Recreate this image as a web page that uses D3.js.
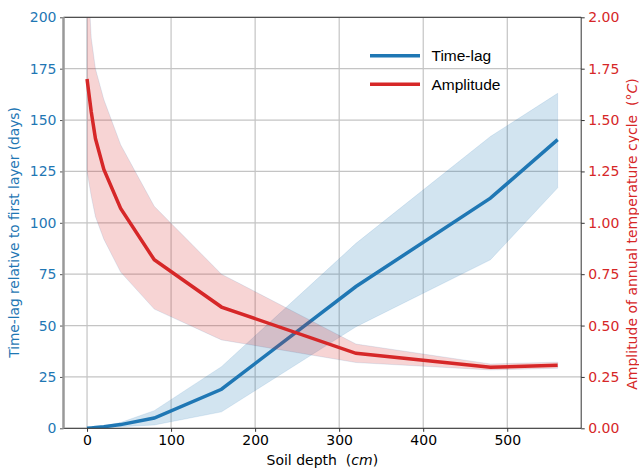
<!DOCTYPE html>
<html><head><meta charset="utf-8">
<script src="https://cdn.jsdelivr.net/npm/d3@7"></script>
<style>body{margin:0;background:#fff}svg{display:block}text{white-space:pre}</style>
</head><body>
<svg id="c" width="639" height="468"></svg>
<script>
const depths = [0, 5, 10, 20, 40, 80, 160, 320, 480, 560];
const lagMean  = [0, 0.2, 0.4, 0.8, 1.8, 5, 19, 69, 112, 140.5];
const lagUpper = [0, 0.3, 0.6, 1.2, 2.8, 8.6, 30, 90, 142, 163];
const lagLower = [0, 0.1, 0.2, 0.4, 0.8, 1.6, 8, 49.4, 82, 117];
const ampMean  = [1.70, 1.54, 1.41, 1.26, 1.07, 0.82, 0.59, 0.365, 0.297, 0.307];
const ampUpper = [2.30, 1.90, 1.75, 1.60, 1.38, 1.08, 0.75, 0.41, 0.313, 0.322];
const ampLower = [1.25, 1.13, 1.03, 0.92, 0.76, 0.58, 0.43, 0.32, 0.284, 0.292];
const xTicks = [0, 100, 200, 300, 400, 500];
const lagTicks = [0, 25, 50, 75, 100, 125, 150, 175, 200];
const ampTicks = [0, 0.25, 0.5, 0.75, 1.0, 1.25, 1.5, 1.75, 2.0];
const seriesNames = ["Time-lag", "Amplitude"];

const L = 63.5, R = 581.2, T = 17.3, B = 428.3;
const BLUE = "#1f77b4", RED = "#d62728";
const svg = d3.select("#c");
const x = d3.scaleLinear().domain([-28, 588]).range([L, R]);
const yL = d3.scaleLinear().domain([0, 200]).range([B, T]);
const yR = d3.scaleLinear().domain([0, 2]).range([B, T]);

svg.append("defs").append("clipPath").attr("id","clip")
  .append("rect").attr("x",L).attr("y",T).attr("width",R-L).attr("height",B-T);

// grid
const g = svg.append("g");
g.selectAll(".gx").data(xTicks).join("line")
  .attr("x1",d=>x(d)).attr("x2",d=>x(d)).attr("y1",T).attr("y2",B)
  .attr("stroke","#b8b8b8").attr("stroke-width",1);
g.selectAll(".gy").data(lagTicks).join("line")
  .attr("x1",L).attr("x2",R).attr("y1",d=>yL(d)).attr("y2",d=>yL(d))
  .attr("stroke","#c4c4c4").attr("stroke-width",1.2);

const plot = svg.append("g").attr("clip-path","url(#clip)");
const idx = d3.range(depths.length);
const areaL = d3.area().x(i=>x(depths[i])).y0(i=>yL(lagLower[i])).y1(i=>yL(lagUpper[i]));
const lineL = d3.line().x(i=>x(depths[i])).y(i=>yL(lagMean[i]));
const areaR = d3.area().x(i=>x(depths[i])).y0(i=>yR(ampLower[i])).y1(i=>yR(ampUpper[i]));
const lineR = d3.line().x(i=>x(depths[i])).y(i=>yR(ampMean[i]));

plot.append("path").datum(idx).attr("d",areaL).attr("fill",BLUE).attr("fill-opacity",0.2)
  .attr("stroke",BLUE).attr("stroke-opacity",0.12).attr("stroke-width",1);
plot.append("path").datum(idx).attr("d",lineL).attr("fill","none").attr("stroke",BLUE).attr("stroke-width",3.5);
plot.append("path").datum(idx).attr("d",areaR).attr("fill",RED).attr("fill-opacity",0.2)
  .attr("stroke",BLUE).attr("stroke-opacity",0.12).attr("stroke-width",1);
plot.append("path").datum(idx).attr("d",lineR).attr("fill","none").attr("stroke",RED).attr("stroke-width",3.5);

// axes
const font = "DejaVu Sans";
const ax = svg.append("g").attr("transform",`translate(0,${B})`)
  .call(d3.axisBottom(x).tickValues(xTicks).tickSize(3.5).tickPadding(3.5).tickFormat(d3.format("d")));
ax.select(".domain").remove();
ax.selectAll("text").attr("font-family",font).attr("font-size",14).attr("fill","#000");
ax.selectAll("line").attr("stroke","#333");

const al = svg.append("g").attr("transform",`translate(${L},0)`)
  .call(d3.axisLeft(yL).tickValues(lagTicks).tickSize(3.5).tickPadding(3.5).tickFormat(d3.format("d")));
al.select(".domain").remove();
al.selectAll("text").attr("font-family",font).attr("font-size",14).attr("fill",BLUE);
al.selectAll("line").attr("stroke","#555");

const ar = svg.append("g").attr("transform",`translate(${R},0)`)
  .call(d3.axisRight(yR).tickValues(ampTicks).tickSize(3.5).tickPadding(3.5).tickFormat(d3.format(".2f")));
ar.select(".domain").remove();
ar.selectAll("text").attr("font-family",font).attr("font-size",14).attr("fill",RED);
ar.selectAll("line").attr("stroke","#333");

// spines
svg.append("line").attr("x1",L).attr("x2",R).attr("y1",T).attr("y2",T).attr("stroke","#333").attr("stroke-width",1);
svg.append("line").attr("x1",L).attr("x2",R).attr("y1",B).attr("y2",B).attr("stroke","#333").attr("stroke-width",1);
svg.append("line").attr("x1",R).attr("x2",R).attr("y1",T).attr("y2",B).attr("stroke","#333").attr("stroke-width",1);
svg.append("line").attr("x1",L).attr("x2",L).attr("y1",T).attr("y2",B).attr("stroke","#999").attr("stroke-width",2.5);

// axis labels
const xl = svg.append("text").attr("x",(L+R)/2).attr("y",465).attr("text-anchor","middle")
  .attr("font-family",font).attr("font-size",14).attr("fill","#000");
xl.append("tspan").text("Soil depth  (");
xl.append("tspan").attr("font-style","italic").text("cm");
xl.append("tspan").text(")");

svg.append("text").attr("transform","translate(18.5,232.5) rotate(-90)").attr("text-anchor","middle")
  .attr("font-family",font).attr("font-size",13.7).attr("fill",BLUE)
  .text("Time-lag relative to first layer (days)");

const rl = svg.append("text").attr("transform","translate(637,234) rotate(-90)").attr("text-anchor","middle")
  .attr("font-family",font).attr("font-size",14).attr("fill",RED);
rl.append("tspan").text("Amplitude of annual temperature cycle  (");
rl.append("tspan").attr("font-style","italic").text("°C");
rl.append("tspan").text(")");

// legend
const leg = svg.append("g");
const legY = [55.7, 84.3];
const legC = [BLUE, RED];
seriesNames.forEach((n,i)=>{
  leg.append("line").attr("x1",370).attr("x2",420).attr("y1",legY[i]).attr("y2",legY[i])
    .attr("stroke",legC[i]).attr("stroke-width",3.5);
  leg.append("text").attr("x",431.5).attr("y",legY[i]+5.5).attr("font-family","Liberation Sans, Arial")
    .attr("font-size",15.5).attr("fill","#000").text(n);
});
</script>
</body></html>
